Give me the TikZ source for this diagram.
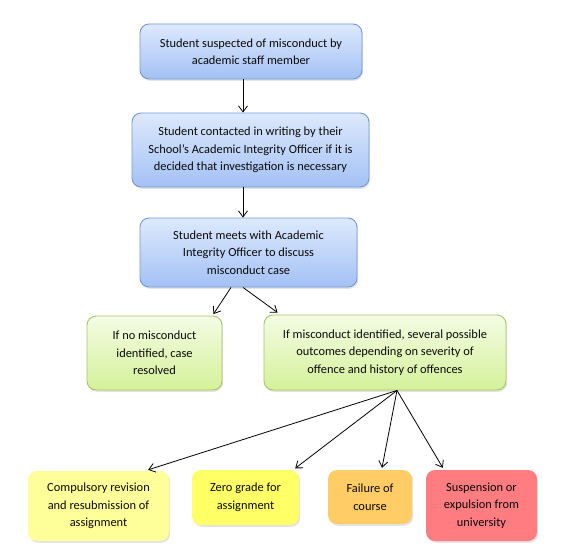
\documentclass[tikz,border=0pt]{standalone}
\usepackage{fontspec}
\setmainfont{Carlito}
\usetikzlibrary{arrows.meta,shadows}
\definecolor{bluetop}{HTML}{DDE9FC}
\definecolor{bluebot}{HTML}{A3C1F5}
\definecolor{blueedge}{HTML}{7499D6}
\definecolor{greentop}{HTML}{F4FCE4}
\definecolor{greenbot}{HTML}{D4F199}
\definecolor{greenedge}{HTML}{A6C66A}
\definecolor{ylight}{HTML}{FFFF99}
\definecolor{ybright}{HTML}{FFFF66}
\definecolor{orng}{HTML}{FFCC66}
\definecolor{rosered}{HTML}{FF7C80}
\definecolor{txt}{HTML}{0A0A0A}
\tikzset{
  box/.style={rounded corners=9pt, align=center, inner sep=0pt, text=txt,
    font=\fontsize{12.4}{17.5}\selectfont,
    drop shadow={opacity=0.22, shadow xshift=1.2pt, shadow yshift=-1.8pt}},
  bluebox/.style={box, draw=blueedge, line width=0.9pt, top color=bluetop, bottom color=bluebot},
  greenbox/.style={box, draw=greenedge, line width=0.9pt, top color=greentop, bottom color=greenbot},
  flatbox/.style={box, draw=none, fill=#1},
  conn/.style={line width=0.8pt, -{Straight Barb[length=6pt,width=9pt,line width=0.8pt]}}
}
\begin{document}
\begin{tikzpicture}[x=1pt,y=-1pt]
\useasboundingbox (0,0) rectangle (580,551);
\node[bluebox, minimum width=222pt, minimum height=55pt] (b1) at (251,51.5)
  {Student suspected of misconduct by\\academic staff member};
\node[bluebox, minimum width=237pt, minimum height=74pt] (b2) at (250.5,150)
  {Student contacted in writing by their\\School’s Academic Integrity Officer if it is\\decided that investigation is necessary};
\node[bluebox, minimum width=217pt, minimum height=69pt] (b3) at (248.5,252.5)
  {Student meets with Academic\\Integrity Officer to discuss\\misconduct case};
\node[greenbox, minimum width=135pt, minimum height=74pt] (b4) at (154.5,353)
  {If no misconduct\\identified, case\\resolved};
\node[greenbox, minimum width=242pt, minimum height=75pt] (b5) at (385,352.5)
  {If misconduct identified, several possible\\outcomes depending on severity of\\offence and history of offences};
\node[flatbox=ylight, minimum width=141pt, minimum height=70pt] (b6) at (98.5,506)
  {Compulsory revision\\and resubmission of\\assignment};
\node[flatbox=ybright, minimum width=107pt, minimum height=55pt] (b7) at (245.5,497.5)
  {Zero grade for\\assignment\vphantom{g}};
\node[flatbox=orng, minimum width=84pt, minimum height=54pt] (b8) at (370,497)
  {Failure of\\course};
\node[flatbox=rosered, minimum width=111pt, minimum height=71pt] (b9) at (481.5,505.5)
  {Suspension or\\expulsion from\\university};
\draw[conn] ([xshift=-8pt]b1.south) -- ([xshift=-7.5pt]b2.north);
\draw[conn] ([xshift=-7.5pt]b2.south) -- ([xshift=-5.5pt]b3.north);
\draw[conn] ([xshift=-17.5pt]b3.south) -- ([xshift=-9pt,yshift=1.5pt]b4.north east);
\draw[conn] ([xshift=-5.5pt]b3.south) -- ([xshift=14pt,yshift=2pt]b5.north west);
\coordinate (o) at ([xshift=12pt]b5.south);
\draw[conn] (o) -- ([xshift=-21pt,yshift=1pt]b6.north east);
\draw[conn] (o) -- ([xshift=-4pt,yshift=1.5pt]b7.north east);
\draw[conn] (o) -- ([xshift=12pt,yshift=2pt]b8.north);
\draw[conn] (o) -- ([xshift=17pt,yshift=2pt]b9.north west);
\end{tikzpicture}
\end{document}
